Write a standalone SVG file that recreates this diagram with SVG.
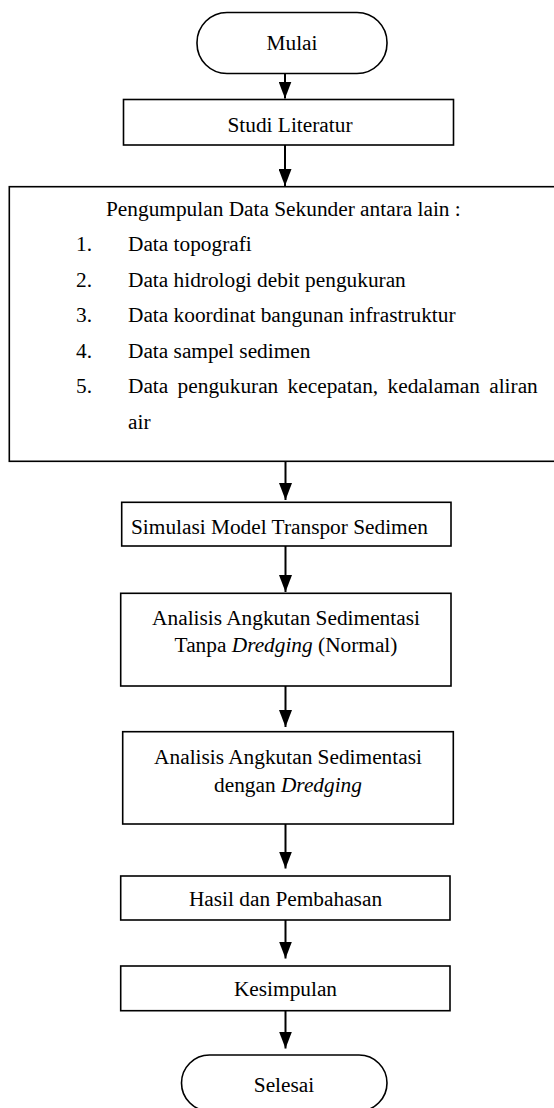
<svg xmlns="http://www.w3.org/2000/svg" width="554" height="1108" viewBox="0 0 554 1108">
<style>
text{font-family:"Liberation Serif","Times New Roman",serif;font-size:21.33px;fill:#000}
.box{fill:#fff;stroke:#000;stroke-width:1.6}
.c{text-anchor:middle}
.con line{stroke:#000;stroke-width:2}
</style>
<defs>
<marker id="ah" viewBox="0 0 17 13" refX="17" refY="6.5" markerWidth="17" markerHeight="13" markerUnits="userSpaceOnUse" orient="auto">
<path d="M0,0 L17,6.5 L0,13 z" fill="#000"/>
</marker>
</defs>
<rect width="554" height="1108" fill="#fff"/>
<g id="mulai"><rect class="box" x="197" y="12.5" width="190" height="61" rx="30" ry="30"/><text class="c" x="292" y="49.5">Mulai</text></g>
<g id="studi"><rect class="box" x="123.5" y="99.5" width="330" height="45.5"/><text class="c" x="290" y="131.5">Studi Literatur</text></g>
<g id="pengumpulan"><rect class="box" x="9.3" y="186.7" width="560" height="274.6"/>
<text x="106" y="216">Pengumpulan Data Sekunder antara lain :</text>
<text x="76" y="251">1.</text><text x="128" y="251">Data topografi</text>
<text x="76" y="286.5">2.</text><text x="128" y="286.5">Data hidrologi debit pengukuran</text>
<text x="76" y="322">3.</text><text x="128" y="322">Data koordinat bangunan infrastruktur</text>
<text x="76" y="357.5">4.</text><text x="128" y="357.5">Data sampel sedimen</text>
<text x="76" y="393">5.</text><text x="128" y="393" word-spacing="4">Data pengukuran kecepatan, kedalaman aliran</text>
<text x="128" y="428.5">air</text>
</g>
<g id="simulasi"><rect class="box" x="121.7" y="502.3" width="329.3" height="43.7"/><text x="131" y="534">Simulasi Model Transpor Sedimen</text></g>
<g id="analisis1"><rect class="box" x="120.7" y="593.3" width="330.3" height="92.7"/><text class="c" x="286" y="624.5">Analisis Angkutan Sedimentasi</text><text class="c" x="286" y="651.7">Tanpa <tspan font-style="italic">Dredging</tspan> (Normal)</text></g>
<g id="analisis2"><rect class="box" x="122.7" y="731.7" width="330.6" height="92.3"/><text class="c" x="288" y="764">Analisis Angkutan Sedimentasi</text><text class="c" x="288" y="792">dengan <tspan font-style="italic">Dredging</tspan></text></g>
<g id="hasil"><rect class="box" x="120.7" y="876" width="329.3" height="44"/><text class="c" x="285.5" y="906">Hasil dan Pembahasan</text></g>
<g id="kesimpulan"><rect class="box" x="120.7" y="966" width="329.3" height="44.7"/><text class="c" x="285.5" y="996">Kesimpulan</text></g>
<g id="selesai"><rect class="box" x="181.5" y="1055" width="205.5" height="56" rx="28" ry="28"/><text class="c" x="284" y="1091.5">Selesai</text></g>
<g class="con" id="connectors">
<line x1="285" y1="73.5" x2="285" y2="98.5" marker-end="url(#ah)"/>
<line x1="285" y1="145" x2="285" y2="186" marker-end="url(#ah)"/>
<line x1="285.5" y1="461.3" x2="285.5" y2="500" marker-end="url(#ah)"/>
<line x1="285.5" y1="546" x2="285.5" y2="592" marker-end="url(#ah)"/>
<line x1="285.5" y1="686" x2="285.5" y2="727" marker-end="url(#ah)"/>
<line x1="285.5" y1="824" x2="285.5" y2="868.5" marker-end="url(#ah)"/>
<line x1="285.5" y1="920" x2="285.5" y2="958.5" marker-end="url(#ah)"/>
<line x1="285.5" y1="1010.7" x2="285.5" y2="1048.5" marker-end="url(#ah)"/>
</g>
</svg>
